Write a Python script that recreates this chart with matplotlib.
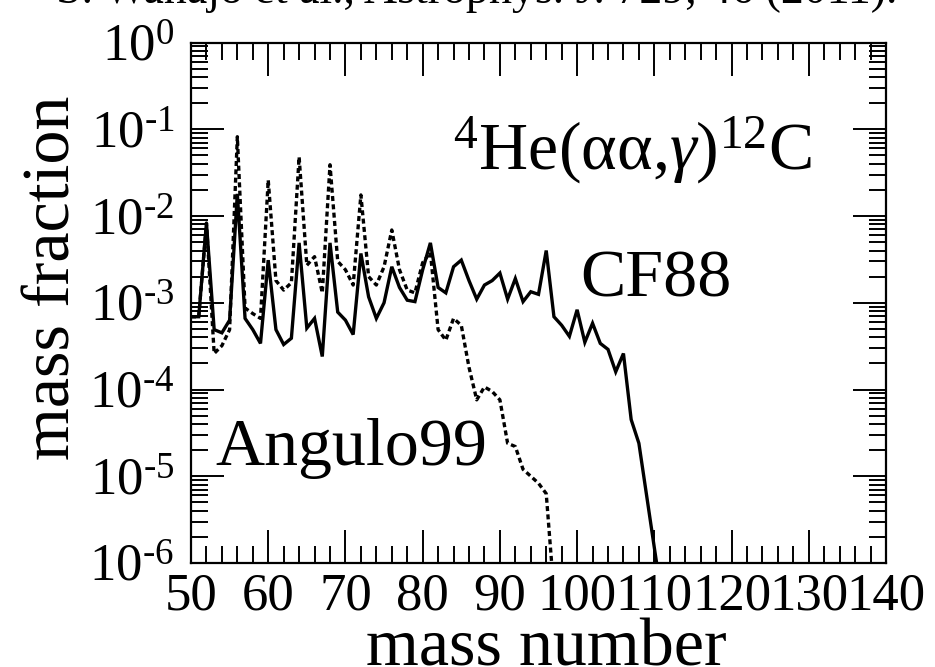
import numpy as np
import matplotlib
matplotlib.use('Agg')
import matplotlib.pyplot as plt
from matplotlib.ticker import MultipleLocator, LogLocator, FuncFormatter, NullFormatter

plt.rcParams['font.family'] = 'Liberation Serif'
plt.rcParams['mathtext.fontset'] = 'custom'
plt.rcParams['mathtext.rm'] = 'Liberation Serif'
plt.rcParams['mathtext.it'] = 'Liberation Serif:italic'
plt.rcParams['mathtext.bf'] = 'Liberation Serif:bold'

# mass number grids
mass_cf88 = list(range(50, 112))
mass_angulo = list(range(50, 98))

# mass fractions (CF88, solid)
frac_cf88 = [6.9e-4, 6.9e-4, 8.3e-3, 4.9e-4, 4.5e-4, 6.3e-4, 1.8e-2, 6.6e-4, 4.9e-4, 3.4e-4,
             3.1e-3, 4.9e-4, 3.3e-4, 3.9e-4, 4.9e-3, 5.1e-4, 6.6e-4, 2.4e-4, 4.9e-3, 7.8e-4,
             6.3e-4, 4.3e-4, 3.7e-3, 1.17e-3, 6.6e-4, 1.0e-3, 2.6e-3, 1.5e-3, 1.07e-3, 1.03e-3,
             2.4e-3, 4.9e-3, 1.5e-3, 1.3e-3, 2.6e-3, 3.1e-3, 1.8e-3, 1.1e-3, 1.6e-3, 1.8e-3,
             2.2e-3, 1.1e-3, 1.9e-3, 1.03e-3, 1.34e-3, 1.25e-3, 4.0e-3, 6.9e-4, 5.5e-4, 4.1e-4,
             8.3e-4, 3.5e-4, 5.8e-4, 3.4e-4, 2.9e-4, 1.6e-4, 2.6e-4, 4.5e-5, 2.4e-5, 6.0e-6,
             1.5e-6, 3.8e-7]

# Angulo99, dotted
frac_angulo = [6.9e-4, 6.9e-4, 8.3e-3, 2.6e-4, 3.2e-4, 4.9e-4, 8.2e-2, 8.7e-4, 7.5e-4, 6.6e-4,
               2.6e-2, 1.8e-3, 1.4e-3, 1.7e-3, 4.8e-2, 2.7e-3, 3.4e-3, 1.3e-3, 3.9e-2, 3.0e-3,
               2.4e-3, 1.6e-3, 1.75e-2, 2.0e-3, 1.6e-3, 2.6e-3, 6.9e-3, 2.4e-3, 1.4e-3, 1.3e-3,
               2.9e-3, 3.8e-3, 4.9e-4, 3.7e-4, 6.6e-4, 5.5e-4, 1.8e-4, 7.6e-5, 1.07e-4, 9.5e-5,
               7.6e-5, 2.4e-5, 2.2e-5, 1.2e-5, 1.0e-5, 8.3e-6, 6.3e-6, 4.6e-7]

title = "S. Wanajo et al., Astrophys. J. 729, 46 (2011)."

W, H = 935, 667
fig = plt.figure(figsize=(W / 100, H / 100), dpi=100)
ax = fig.add_axes([191 / W, 1 - 563 / H, (886 - 191) / W, (563 - 42.5) / H])

ax.plot(mass_cf88, frac_cf88, color='black', lw=2.4, solid_joinstyle='miter')
ax.plot(mass_angulo, frac_angulo, color='black', lw=2.4, linestyle=(0, (1.5, 1.0)))

ax.set_yscale('log')
ax.set_xlim(50, 140)
ax.set_ylim(1e-6, 1)

ax.xaxis.set_major_locator(MultipleLocator(10))
ax.xaxis.set_minor_locator(MultipleLocator(2))
ax.yaxis.set_major_locator(LogLocator(base=10, numticks=10))
ax.yaxis.set_minor_locator(LogLocator(base=10, subs=np.arange(2, 10), numticks=20))
ax.yaxis.set_minor_formatter(NullFormatter())
ax.yaxis.set_major_formatter(FuncFormatter(
    lambda v, p: r'$\mathregular{10^{%s}}$' % ('\u2010%d' % -round(np.log10(v)) if v < 1 else '0')))

ax.tick_params(which='both', direction='in', top=True, right=True, width=1.4, labelsize=38)
ax.tick_params(which='major', length=24)
ax.tick_params(which='minor', length=12)
ax.tick_params(axis='x', pad=7)
ax.tick_params(axis='y', pad=12)
for s in ax.spines.values():
    s.set_linewidth(1.6)

fig.text(546 / W, 1 - 665 / H, 'mass number', fontsize=49, ha='center', va='baseline')
fig.text(70 / W, 1 - 278 / H, 'mass fraction', fontsize=49, rotation=90,
         ha='center', va='baseline', rotation_mode='anchor')
fig.text(477 / W, 1 - 3 / H, title, fontsize=33, ha='center', va='baseline')

ax.text(83.9, 10 ** -1.47, r'$^{\mathregular{4}}$He(αα,$\mathit{\gamma}$)$^{\mathregular{12}}$C',
        fontsize=49, ha='left', va='baseline')
ax.text(100.4, 10 ** -2.93, 'CF88', fontsize=49, ha='left', va='baseline')
ax.text(53.1, 10 ** -4.87, 'Angulo99', fontsize=49, ha='left', va='baseline')

fig.savefig('out.png', dpi=100)
